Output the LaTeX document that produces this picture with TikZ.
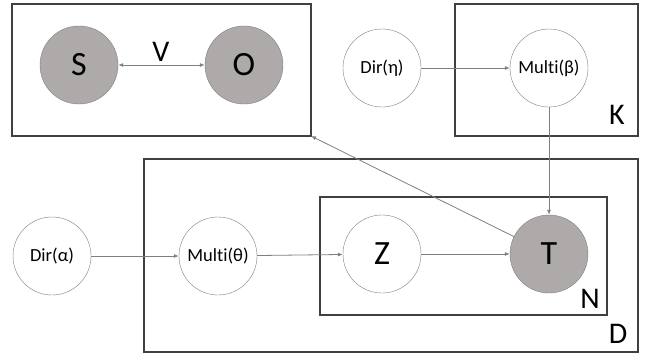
\documentclass[tikz,border=0pt]{standalone}
\usepackage{fontspec}
\setmainfont{Carlito}[Ligatures=NoCommon]
\usetikzlibrary{arrows.meta}
\definecolor{obsgray}{HTML}{AEAAAA}
\definecolor{bordgris}{HTML}{7F7F7F}
\definecolor{plaquegris}{HTML}{404040}
\begin{document}
\begin{tikzpicture}[x=1pt,y=-1pt]
\tikzset{noeud/.style={draw=bordgris, circle, minimum size=78pt, inner sep=0pt, font=\fontsize{18.5}{20}\selectfont},
  latent/.style={noeud, font=\fontsize{34}{36}\selectfont},
  observe/.style={latent, fill=obsgray},
  plaque/.style={draw=plaquegris, line width=1.6pt},
  fleche/.style={draw=bordgris, line width=0.8pt, -{Latex[length=5pt,width=4pt]}},
  etiq/.style={font=\fontsize{30}{32}\selectfont, inner sep=0pt, anchor=base}}
\useasboundingbox (0,0) rectangle (651,356);
\draw[plaque] (12,4) rectangle (311,136);
\draw[plaque] (455,4) rectangle (638,136);
\draw[plaque] (144,159) rectangle (638,352);
\draw[plaque] (320,197) rectangle (607,315);
\coordinate (C1) at (311,136);
\node[observe] (S) at (79,65) {S};
\node[observe] (O) at (244,65) {O};
\node[noeud] (DE) at (382,68) {Dir(η)};
\node[noeud] (MB) at (549,68) {Multi(β)};
\node[noeud] (DA) at (52,256) {Dir(α)};
\node[noeud] (MT) at (218,256) {Multi(θ)};
\node[latent] (Z) at (382,254) {Z};
\node[observe] (T) at (549,254) {T};
\node[etiq] (V) at (161,61) {V};
\node[etiq] (K) at (617,124) {K};
\node[etiq] (N) at (590,308) {N};
\node[etiq] (D) at (618,343) {D};
\draw[fleche, {Latex[length=5pt,width=4pt]}-{Latex[length=5pt,width=4pt]}] (S) -- (O);
\draw[fleche] (DE) -- (MB);
\draw[fleche] (MB) -- (T);
\draw[fleche] (DA) -- (MT);
\draw[fleche] (MT) -- (Z);
\draw[fleche] (Z) -- (T);
\draw[fleche] (T) -- (C1);
\end{tikzpicture}
\end{document}
